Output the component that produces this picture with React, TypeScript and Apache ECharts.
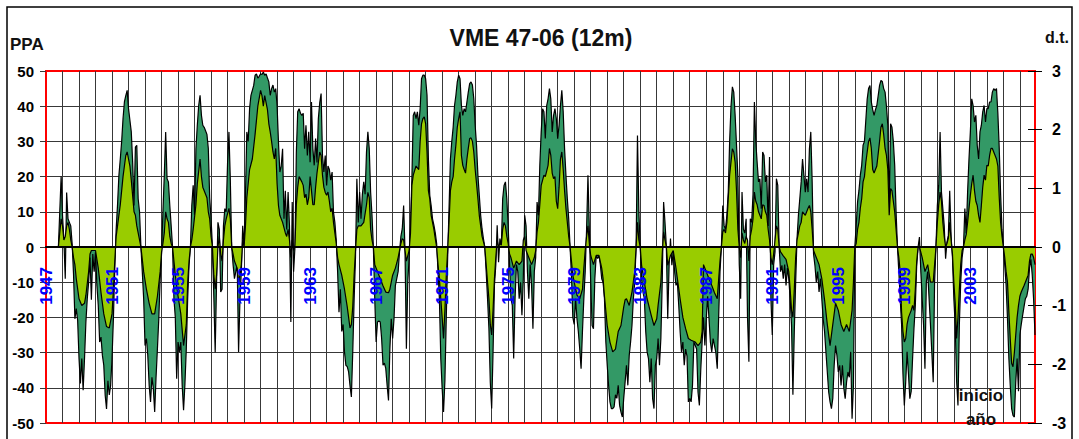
import React, { useEffect, useRef } from "react";
import * as echarts from "echarts";

// Month index 0 = January 1947; the x axis runs in months.
const FIRST_YEAR = 1947;
const LAST_MONTH = 719;
const YEAR_LABELS = [1947, 1951, 1955, 1959, 1963, 1967, 1971, 1975, 1979, 1983, 1987, 1991, 1995, 1999, 2003];

// Monthly PPA values (dark area), starting at month 9 (October 1947), one row per year.
const PPA_START = 9;
const ppaMensual: number[] = [
  0, 10, 20,
  9, 2, -9, 15.5, 8, 7, 6, 1, -7.6, -20.4, -17.5, -20.8,
  -31.7, -38.8, -31.7, -40.7, -31.7, -21.3, -14.7, -10, -3, -15, -2, -7,
  -1.4, -10.9, -16.6, -27, -25.6, -30.8, -33.6, -42, -46, -38, -42, -39.3,
  -31.7, -20.4, -6, 5, 12, 20.4, 25, 30, 36.5, 41.2, 43, 44.5,
  39.3, 36, 32.7, 24.1, 11.8, 28.4, 28.9, 13.7, 10, 0, -7, -14.7,
  -28, -26, -30.8, -39.3, -44, -37, -40, -46.9, -37, -28.9, -20.4, -9,
  -2, 10, 20.4, 32.7, 19.4, 18.5, 11.8, 6, 0, -14.7, -20, -37.4,
  -27, -29.8, -27, -39.3, -46.4, -39, -28.9, -14.7, -5, 0, 11.8, 17.5,
  9, 27.9, 34.6, 40.2, 43.1, 37.4, 34.6, 34, 33, 32, 28, 14,
  8, 0, -14, -30, -10, 7, 5, -12.8, -12, 6, 10.9, 10,
  24, 32.7, 19, 0, -5, -9, -7, -5, -29.8, -15, -7, 6,
  0, 14.7, 32.7, 30, 39.3, 43.1, 44.5, 45.9, 48.8, 49.2, 48, 48.5,
  49.2, 49, 49.7, 48.8, 49.2, 48, 46.9, 43.1, 45, 46, 44, 45,
  40.2, 29.8, 21.3, 23, 27.9, 8, 16, 5, 15.6, 6, -21.3, 12.8,
  -7, 0, 27, 38.4, 39.3, 38, 37.4, 38, 27.9, 34.6, 26, 32.7,
  24.1, 41.2, 28, 23.2, 30.8, 24, 36.5, 41, 43.6, 26, 21.3, 26,
  17.5, 23, 22, 19, 21.3, 9.9, 7, 2, -7, -18.5, -12, -24,
  -22, -29.8, -33.6, -34, -35.5, -39.3, -42.6, -30, -15, -3, 19.4, 7,
  15.6, 8, 15, 18.5, 15, 27, 32.7, 28, 15.6, 9, 0, -14.7,
  -27, -21.3, -21, -21.3, -26, -33.6, -33, -34.5, -39.3, -43.6, -28.9, -20.4,
  -26, -20.4, -10.9, -9, -7, -1.4, 3, 5.2, 11.8, -1, -28.9, -10,
  -3, 6, 19.4, 37.4, 38.4, 36.5, 38.4, 34.6, 39.3, 47.8, 48.8, 48.8,
  47.8, 43.1, 25, 14.7, 11.8, 8, 6.2, 4, 1, -7, -14.7, -31.7,
  -40.2, -46.9, -38, -20, -3, 10.9, 25, 30, 34, 40.2, 43.1, 46.9,
  48.8, 47.8, 40.2, 37.4, 39.3, 38.4, 41.2, 44, 46.4, 46.9, 46, 42.1,
  34.6, 28.9, 20.4, 14.7, 9, 5.2, 2.4, 0, -7, -14.7, -23.2, -38.4,
  -45.9, -30, -10.9, -5.2, 6.2, -4.3, 2.4, 0, 13.7, 17.5, 18.5, 13.7,
  6, -5, -14.7, -16.6, -31.7, -14.7, -5, -7, -14.7, -10, -19.4, -9,
  9, 6, -7, -14.7, -5, -10.9, -23.2, -7, -3, 12.8, 9, 23.2,
  32.7, 39.3, 38.4, 30.8, 40.2, 42.1, 45, 42, 32.7, 37.4, 39.3, 36.5,
  30.8, 34.6, 40.2, 44.5, 38.4, 27.9, 20.4, 13.7, 8, 0, -8, -20,
  -22, -14.7, -20.4, -24, -28.9, -34.6, -24, -14.7, -7, 5, 20.4, 5,
  -10, -22.3, -23.2, -9, -2.4, -3.3, -2.4, -5, -9, -10, -14.7, -27,
  -33.6, -39.3, -44, -45.9, -45.9, -45.4, -42, -43, -39.3, -45, -46.9, -48.3,
  -43, -38.4, -33.6, -39.3, -30.8, -27, -22.3, -14.7, -10, 0, 31.7, 10,
  0, -9, -12.8, -14.7, -24, -29.8, -31.7, -38.4, -31.7, -43, -45.9, -33.6,
  -31.7, -26, -33.6, -26, -10, 12.8, 7, 0, -20.4, -5.2, 2.4, -5.2,
  -1.4, -7, -10.9, -10, -16.6, -24, -29.8, -27, -33.6, -29, -31, -44,
  -43, -44, -39.3, -27, -28, -29, -41.2, -45, -35, -27, -20, -28,
  -20.4, -14, -20.4, -27, -29.8, -26, -28, -30, -34.6, -20, -7, 0,
  11.8, 6, 5, 9, 15.6, 30, 40, 45.5, 44, 37.4, 28.9, 20,
  -5, -14.7, 15.6, 5, 4, 8, -20, -32.6, 8, 7, 15, 41.2,
  30, 24, 18.5, 19.4, 10.9, 27, 26, 18.5, 20.4, 6, 25.6, -14.7,
  -25, -5, -1.4, 19.4, 17.5, 0, -7, -5.2, -9, -5, -10.9, -6,
  -9, -14.7, -22.3, -42, -24, -10, 2.4, 9, 13.7, 18.5, 25, 20.4,
  15.6, 19.4, 15.6, 27.9, 32.7, 18.5, -2, -5.2, -10, -7, -12.8, -9,
  -14.7, -20.4, -24, -29.8, -35.5, -41.2, -44, -45.9, -43, -33.6, -28, -30.8,
  -35.5, -33.6, -39.3, -33.6, -40, -43.1, -38.4, -35.5, -37, -29.8, -48.8, -39.3,
  0, 6, 12.8, 16, 20.4, 23.2, 28.9, 30, 36, 42, 45, 45.9,
  41.2, 39, 37.4, 39, 40.2, 43, 45.9, 47.3, 47, 45, 44, 40,
  34.6, 10.9, 35, 34, 30, 23.2, 10, 0, -7, -14.7, -22, -36,
  -45, -38.4, -29.8, -36, -43.1, -41, -31.7, -23.2, -16.6, -5.2, 0, 2.8,
  -7, -14.7, -22.3, -34.6, -10, -7, -14.7, -22, -30, -38.4, -10, 0,
  11.8, 17.5, 32.7, 15.6, 10.9, 6, -3.3, 1.4, 3.3, 16, 3, -3,
  -14.7, -22.3, -38, -45, -22, -10, -3, 0, 10.9, 4, 15.6, 25,
  32.7, 42.1, 40.2, 35.5, 37.4, 28.9, 25, 32.7, 34.6, 38.4, 40.2, 35.5,
  39.3, 39.3, 41.2, 41.2, 44, 45, 44.5, 45, 38, 28, 15, 5,
  0, -5.2, -10.9, -20.4, -31.7, -39.3, -45.9, -47.8, -48.3, -38.4, -31.7, -41,
  -25, -22, -19.4, -17, -14.7, -14, -12, -6, -3.5, -8, -15, -25,
];

// 12-month index (light area) as [month, value] vertices.
const indice12m: [number, number][] = [
  [9, 0], [11, 8], [12, 6], [13, 2], [14, 3], [15, 6], [16, 7], [17, 5], [18, 2], [19, 0], [20, -3], [21, -5], [22, -9],
  [24, -14.7], [26, -16.6], [28, -16], [29, -13.7], [31, -7], [32, -2], [33, -1], [35, -1], [36, -1], [38, -6], [40, -13],
  [42, -19], [44, -22.6], [46, -23], [48, -19], [49, -12], [50, -4], [51, 3], [52, 6], [54, 12], [56, 20], [58, 26], [59, 27],
  [60, 25], [61, 23], [62, 19], [64, 10], [65, 9], [66, 6], [67, 4], [68, 2], [69, 0], [71, -7], [73, -12], [75, -16],
  [77, -19], [79, -19], [81, -14], [83, -7], [84, -1.5], [85, 1], [86, 4], [87, 10], [88, 8], [89, 7], [90, 3], [91, 1],
  [92, 0], [94, -8], [96, -14], [98, -19], [100, -28], [102, -22], [103, -10], [104, -4], [105, 0], [106, 2], [107, 5],
  [109, 12], [110, 18], [112, 25], [113, 20], [114, 17], [116, 15], [117, 14], [118, 10], [119, 8], [120, 3], [121, 0],
  [122, -8], [123, -12], [124, -8], [125, 0], [126, 3], [127, -2], [128, -4], [129, 2], [130, 6], [131, 8], [133, 11],
  [134, 8], [135, 0], [137, -4], [139, -6], [140, -10], [141, -8], [142, -5], [143, 2], [144, 0], [145, 6], [146, 14],
  [148, 22], [150, 25], [152, 32], [154, 40], [156, 44.5], [157, 43], [158, 40], [159, 43], [160, 41], [161, 39], [162, 35],
  [163, 32.7], [164, 30], [165, 27], [166, 25], [167, 28], [168, 18], [169, 11.8], [170, 9], [172, 7], [174, 4], [175, 3],
  [176, 5], [177, 2], [178, -3], [179, 2], [180, -1], [181, 0.5], [182, 12], [183, 17], [184, 20], [186, 18.5], [187, 17.5],
  [188, 14], [189, 15], [190, 12], [191, 14], [192, 20], [193, 16], [194, 12], [195, 12], [196, 17], [197, 21], [198, 24],
  [199, 27], [200, 26], [201, 20.4], [202, 17], [203, 15.5], [204, 14.7], [205, 15.6], [206, 13], [207, 10], [208, 11],
  [209, 7], [210, 4], [211, 1], [212, -3], [213, -5], [215, -8], [217, -12], [219, -17], [221, -23], [222, -22], [223, -17],
  [224, -8], [225, -1], [226, 5], [227, 6], [229, 6], [231, 7], [233, 12], [234, 15.5], [235, 14], [236, 5], [237, 2],
  [238, 0], [239, -5], [241, -7], [243, -9], [245, -11], [247, -12.8], [249, -13], [250, -12], [252, -8], [254, -6],
  [256, -3], [257, -1], [258, 1], [259, 2.4], [260, 2], [261, -1], [262, -4], [264, -1], [265, 4], [266, 17.5], [267, 20.4],
  [269, 23], [271, 22], [272, 30], [273, 35], [274, 36.5], [275, 37], [276, 35], [277, 27], [278, 16], [279, 13.7], [280, 9],
  [281, 7], [282, 5], [283, 2.4], [284, 0], [285, -5], [286, -9], [287, -14.7], [288, -20], [289, -26], [290, -18], [291, -8],
  [292, -1], [293, 7], [294, 16], [295, 18.5], [296, 20], [297, 25], [298, 29], [299, 34], [300, 36.5], [301, 38.4],
  [302, 26], [303, 23.2], [304, 22], [305, 21], [306, 25], [307, 28], [308, 30.8], [309, 31], [310, 30], [311, 27], [312, 22],
  [313, 18], [314, 13.7], [315, 9], [316, 6], [317, 3], [318, 1.5], [319, 0], [320, -5], [321, -10], [322, -14.7], [323, -22],
  [324, -25], [325, -18], [326, -9], [327, -3], [328, 2], [329, 0], [330, 1], [331, 0.5], [332, 5], [333, 7], [334, 6],
  [335, 3], [336, 1], [337, -2], [338, -3], [340, -6], [342, -4], [344, -5], [346, -4], [347, 2], [348, 3], [349, -1],
  [351, -3], [353, -5], [355, -3], [356, -1], [357, 4.3], [358, 7], [359, 12], [360, 17.5], [362, 20.4], [363, 20],
  [365, 23.2], [366, 28], [367, 26], [368, 21], [369, 19.4], [370, 20], [371, 13], [372, 10.9], [373, 17], [374, 25],
  [375, 27], [376, 22], [377, 16], [378, 10.9], [379, 7], [380, 3], [381, 0], [382, -4], [383, -8], [384, -10], [386, -13.7],
  [388, -14.7], [390, -12], [391, -6], [392, -1], [393, 3], [394, 6], [395, 1], [396, -2.4], [398, -5], [400, -2.4],
  [402, -2.4], [404, -6], [405, -9], [406, -14], [408, -22.3], [410, -27], [412, -29.8], [414, -29], [416, -24], [418, -22.3],
  [420, -17], [421, -15], [422, -14.7], [424, -16.6], [426, -12.8], [428, -7], [429, 0], [430, 7], [431, 2], [432, 0],
  [433, -5.2], [435, -10], [437, -14.7], [440, -19.4], [442, -22.3], [444, -20.4], [445, -16.6], [447, -10], [448, -2],
  [449, 4.3], [450, 2], [451, 0], [452, -5.2], [454, -2.4], [456, -1], [458, -6], [459, -9], [461, -14.7], [463, -20],
  [465, -23.2], [467, -26], [469, -26.5], [472, -27], [474, -28], [476, -27], [477, -24], [478, -5], [480, -7], [482, -9],
  [484, -10.9], [486, -13], [488, -14.7], [490, -4], [491, 0], [492, 4.3], [493, 5], [494, 4], [495, 7], [496, 13.7],
  [497, 20.4], [499, 27.9], [500, 27], [501, 24], [502, 16], [503, 5], [504, 0], [505, -3], [506, 4], [507, 2], [508, 1],
  [509, 3], [510, 2], [511, -4], [512, 3], [513, 5], [514, 8], [515, 15.6], [516, 13], [517, 12], [518, 10], [519, 9],
  [520, 8], [521, 12], [522, 11.8], [523, 10], [524, 9], [525, 5], [526, 2], [527, -3], [528, -5], [529, -2], [530, 2],
  [531, 6], [532, 5], [533, 0], [534, -1.4], [536, -2.5], [538, -3.5], [540, -7], [541, -12], [542, -18], [543, -20],
  [544, -12], [545, -3], [546, 2], [547, 4], [548, 6], [549, 7], [550, 10], [552, 9], [553, 10], [554, 11], [555, 11.8],
  [556, 10], [557, 5], [558, -1], [560, -3], [562, -5], [564, -9], [566, -15], [568, -22], [570, -28], [572, -22],
  [574, -16], [576, -18], [578, -22], [580, -24], [582, -22], [584, -24], [586, -18], [587, -10], [588, 0], [589, 1],
  [590, 5], [591, 7], [592, 11], [593, 13.7], [594, 18.5], [595, 20], [596, 24], [597, 27], [598, 30], [599, 31], [600, 28],
  [601, 22], [602, 21], [604, 23], [606, 30], [607, 34], [608, 35], [609, 32], [610, 28], [611, 26], [612, 22], [613, 9],
  [614, 16.6], [615, 16], [617, 10], [618, 5], [619, 0], [620, -3], [621, -7], [622, -18.5], [623, -24], [624, -27],
  [625, -26], [626, -22], [627, -20], [628, -19], [629, -18], [630, -16.6], [631, -18], [632, -12], [633, -4], [634, 0],
  [635, 0], [637, -3], [639, -7], [641, -5], [643, -10], [645, -10], [646, -5], [647, 0], [648, 7], [649, 12], [650, 15.6],
  [651, 13], [652, 7], [653, 3], [654, 0], [655, 1], [656, 2.5], [657, 7], [658, 2], [659, -2], [660, -10], [661, -16],
  [662, -26], [663, -20], [664, -12], [665, -5], [666, -1], [667, 0], [668, 2], [669, 3.5], [670, 7], [671, 10.9],
  [672, 14.7], [673, 18], [674, 20.4], [675, 16], [676, 13], [677, 11.8], [678, 9], [679, 7], [680, 11.8], [681, 17],
  [682, 20.4], [683, 19], [684, 23.2], [685, 23], [686, 26], [687, 28], [688, 28], [689, 27], [690, 26], [691, 25],
  [692, 23], [693, 14], [694, 7], [695, 3], [696, 0], [697, -3], [698, -7], [699, -10], [700, -18.5], [701, -26],
  [702, -33], [703, -34], [704, -30], [705, -25], [706, -20], [707, -16.6], [708, -14], [709, -12.8], [711, -11],
  [713, -9], [714, -8], [715, -4], [716, -2], [717, -2], [718, -3], [719, -5],
];

const FONT = '"Liberation Sans", Arial, sans-serif';
const GRID_LINE = "#383838";
const FRAME_RED = "#ff0000";

// plot box in pixels
const GRID_TOP = 71;
const GRID_BOTTOM = 16;
const CHART_HEIGHT = 439;
// the zero line sits halfway down the plot box (-50..50)
const ZERO_OFFSET = -(CHART_HEIGHT - GRID_TOP - GRID_BOTTOM) / 2;

export default function App() {
  const ref = useRef<HTMLDivElement>(null);

  useEffect(() => {
    document.body.style.margin = "0";
    const chart = echarts.init(ref.current!, null, { renderer: "svg" });

    const ppaPoints = ppaMensual.map((v, i) => [PPA_START + i, v]);
    const leftSplitColors = Array.from({ length: 11 }, (_, i) => (i === 0 || i === 10 ? FRAME_RED : GRID_LINE));

    chart.setOption({
      animation: false,
      backgroundColor: "#ffffff",
      textStyle: { fontFamily: FONT },
      grid: {
        left: 46,
        right: 44,
        top: GRID_TOP,
        bottom: GRID_BOTTOM,
        containLabel: false,
        outerBoundsMode: "none",
        show: true,
        borderColor: FRAME_RED,
        borderWidth: 2,
        backgroundColor: "transparent",
      },
      xAxis: [
        {
          // yearly grid lines
          type: "value",
          position: "top",
          min: 0,
          max: LAST_MONTH,
          interval: 12,
          axisLine: { show: false, onZero: false },
          axisTick: { show: false },
          axisLabel: { show: false },
          splitLine: { show: true, lineStyle: { color: GRID_LINE, width: 1 } },
        },
        {
          // zero line and year labels, drawn over the areas
          type: "value",
          position: "bottom",
          offset: ZERO_OFFSET,
          min: 0,
          max: LAST_MONTH,
          interval: 12,
          z: 10,
          axisLine: { show: true, onZero: false, lineStyle: { color: "#000", width: 2 } },
          axisTick: { show: false },
          splitLine: { show: false },
          axisLabel: {
            rotate: 90,
            margin: 20,
            color: "#0000ff",
            fontWeight: "bold",
            fontSize: 17,
            fontFamily: FONT,
            showMinLabel: true,
            showMaxLabel: false,
            formatter: (v: number) => {
              const year = FIRST_YEAR + v / 12;
              return YEAR_LABELS.includes(year) ? String(year) : "";
            },
          },
        },
      ],
      yAxis: [
        {
          type: "value",
          position: "left",
          min: -50,
          max: 50,
          interval: 10,
          axisLine: { show: true, onZero: false, lineStyle: { color: FRAME_RED, width: 2 } },
          axisTick: { show: true, length: 6, lineStyle: { color: GRID_LINE } },
          axisLabel: { color: "#000", fontWeight: "bold", fontSize: 15, margin: 12, fontFamily: FONT },
          splitLine: { show: true, lineStyle: { color: leftSplitColors, width: 1 } },
        },
        {
          type: "value",
          position: "right",
          min: -3,
          max: 3,
          interval: 1,
          axisLine: { show: true, onZero: false, lineStyle: { color: FRAME_RED, width: 2 } },
          axisTick: { show: true, length: 7, lineStyle: { color: "#000" } },
          axisLabel: { color: "#000", fontWeight: "bold", fontSize: 16, margin: 17, fontFamily: FONT },
          splitLine: { show: false },
        },
        {
          type: "value",
          position: "right",
          min: -3,
          max: 3,
          interval: 1,
          axisLine: { show: false, onZero: false },
          axisTick: { show: true, inside: true, length: 7, lineStyle: { color: "#000" } },
          axisLabel: { show: false },
          splitLine: { show: false },
        },
      ],
      series: [
        {
          name: "PPA",
          type: "line",
          xAxisIndex: 1,
          yAxisIndex: 0,
          data: ppaPoints,
          showSymbol: false,
          symbol: "none",
          lineStyle: { color: "#000", width: 1.2 },
          areaStyle: { color: "#339966", opacity: 1 },
          z: 2,
        },
        {
          name: "12m",
          type: "line",
          xAxisIndex: 1,
          yAxisIndex: 0,
          data: indice12m,
          showSymbol: false,
          symbol: "none",
          lineStyle: { color: "#000", width: 1.2 },
          areaStyle: { color: "#99cc00", opacity: 1 },
          z: 3,
        },
      ],
      graphic: [
        {
          type: "rect",
          silent: true,
          z: 0,
          shape: { x: 7, y: 7, width: 1065, height: 460 },
          style: { fill: "transparent", stroke: "#000", lineWidth: 1.5 },
        },
        {
          type: "text",
          x: 541,
          y: 37.5,
          z: 20,
          style: {
            text: "VME 47-06 (12m)",
            font: `bold 23px ${FONT}`,
            fill: "#111",
            textAlign: "center",
            textVerticalAlign: "middle",
          },
        },
        {
          type: "text",
          x: 10,
          y: 44,
          z: 20,
          style: { text: "PPA", font: `bold 17px ${FONT}`, fill: "#111", textAlign: "left", textVerticalAlign: "middle" },
        },
        {
          type: "text",
          x: 1057,
          y: 37.5,
          z: 20,
          style: { text: "d.t.", font: `bold 16px ${FONT}`, fill: "#111", textAlign: "center", textVerticalAlign: "middle" },
        },
        {
          type: "text",
          x: 981,
          y: 395,
          z: 20,
          style: { text: "inicio", font: `bold 17px ${FONT}`, fill: "#111", textAlign: "center", textVerticalAlign: "middle" },
        },
        {
          type: "text",
          x: 981,
          y: 419,
          z: 20,
          style: { text: "año", font: `bold 17px ${FONT}`, fill: "#111", textAlign: "center", textVerticalAlign: "middle" },
        },
      ],
    });

    return () => chart.dispose();
  }, []);

  return <div ref={ref} style={{ position: "absolute", left: 0, top: 0, width: 1079, height: CHART_HEIGHT }} />;
}
